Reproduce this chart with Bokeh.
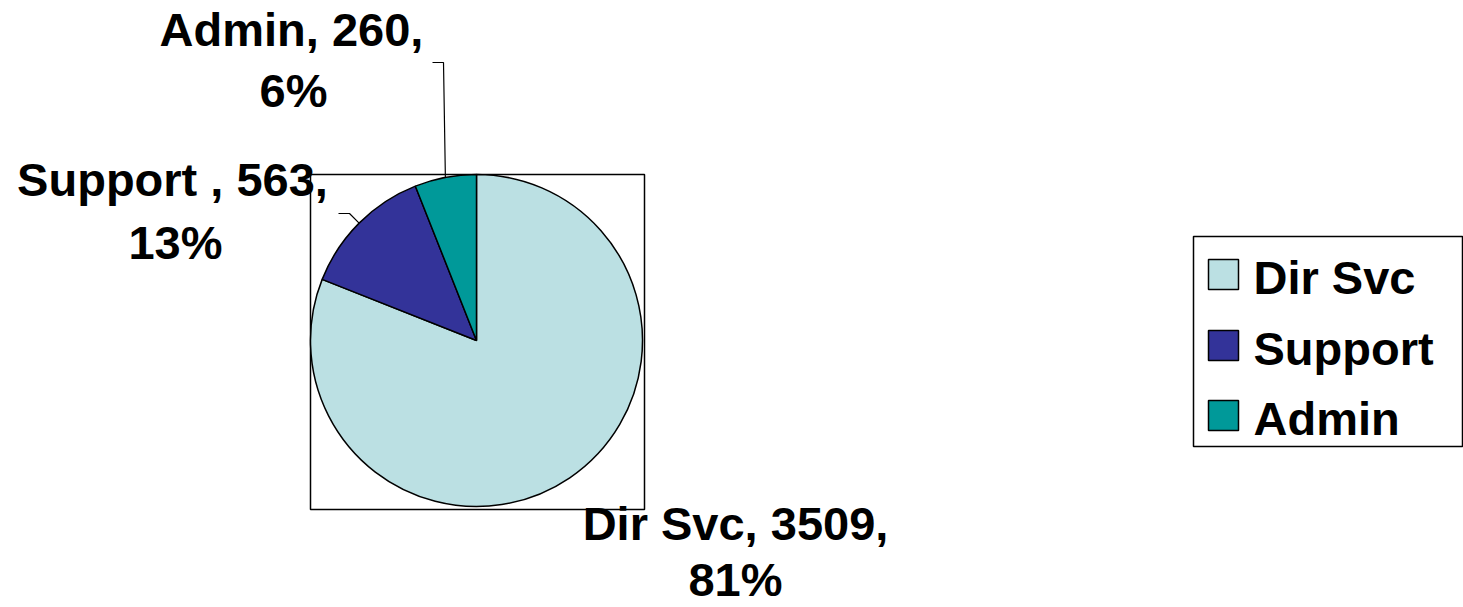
import math

from bokeh.core.properties import value
from bokeh.embed import file_html
from bokeh.models import ColumnDataSource, Range1d
from bokeh.plotting import figure
from bokeh.resources import INLINE

# Staff counts by group
categories = ["Dir Svc", "Support ", "Admin"]
counts = [3509, 563, 260]
colors = ["#BBE0E3", "#333399", "#009999"]

W, H = 1463, 607
FONT = "Liberation Sans"
BASE_SHIFT = 18  # the SVG backend draws alphabetic baselines a little low


def Y(py):
    """Convert a top-down pixel row into the bottom-up data y."""
    return H - py


p = figure(width=W, height=H, output_backend="svg", toolbar_location=None,
           x_range=Range1d(0, W), y_range=Range1d(0, H), min_border=0,
           x_axis_location=None, y_axis_location=None)
p.grid.visible = False
p.outline_line_color = None
p.background_fill_color = "white"
p.border_fill_color = "white"

# Plot-area frame
p.quad(left=310, right=644, top=Y(174), bottom=Y(509),
       fill_color=None, line_color="black", line_width=1.5)

# Pie slices, first one starting at 12 o'clock and running clockwise
cx, cy, r = 476, Y(340), 166
total = sum(counts)
fracs = [c / total for c in counts]
starts, ends, mids = [], [], []
cum = 0.0
for f in fracs:
    a0 = math.pi / 2 - 2 * math.pi * cum
    a1 = math.pi / 2 - 2 * math.pi * (cum + f)
    starts.append(a0)
    ends.append(a1)
    mids.append((a0 + a1) / 2)
    cum += f

src = ColumnDataSource(dict(cat=categories, count=counts, color=colors,
                            start=starts, end=ends))
p.wedge(x=cx, y=cy, radius=r, start_angle="start", end_angle="end",
        direction="clock", fill_color="color", line_color="black",
        line_width=1.5, source=src)

# Data labels
pcts = [round(f * 100) for f in fracs]
line1 = [f"{c.rstrip()}{' ' if c.endswith(' ') else ''}, {n}," for c, n in zip(categories, counts)]
line2 = [f"{q}%" for q in pcts]
label_x1 = [735, 172, 291]
label_x2 = [735, 175, 293]
label_y1 = [Y(541 - BASE_SHIFT), Y(197 - BASE_SHIFT), Y(47 - BASE_SHIFT)]
label_y2 = [Y(597 - BASE_SHIFT), Y(260 - BASE_SHIFT), Y(108 - BASE_SHIFT)]
for xs, ys, txt in ((label_x1, label_y1, line1), (label_x2, label_y2, line2)):
    p.text(x=xs, y=ys, text=txt, text_font=value(FONT), text_font_style="bold",
           text_font_size="47px", text_align="center",
           text_baseline="alphabetic", text_color="black")

# Leader lines for the two small slices
elbows = {1: [(349, 213), (338, 213)], 2: [(443, 62), (432, 62)]}
for i, pts in elbows.items():
    sx = cx + r * math.cos(mids[i])
    sy = cy + r * math.sin(mids[i])
    xs = [sx] + [q[0] for q in pts]
    ys = [sy] + [Y(q[1]) for q in pts]
    p.line(xs, ys, line_color="black", line_width=1.2)

# Legend box
p.quad(left=1193, right=1462, top=Y(236), bottom=Y(446),
       fill_color="white", line_color="black", line_width=1.5)
leg_y = [Y(274), Y(345), Y(415)]
p.rect(x=[1223] * 3, y=leg_y, width=30, height=30, fill_color=colors,
       line_color="black", line_width=1.5)
p.text(x=[1253] * 3, y=[v - 3 for v in leg_y], text=[c.strip() for c in categories],
       text_font=value(FONT), text_font_style="bold", text_font_size="47px",
       text_align="left", text_baseline="middle", text_color="black")

open("out.html", "w").write(file_html(p, INLINE))
